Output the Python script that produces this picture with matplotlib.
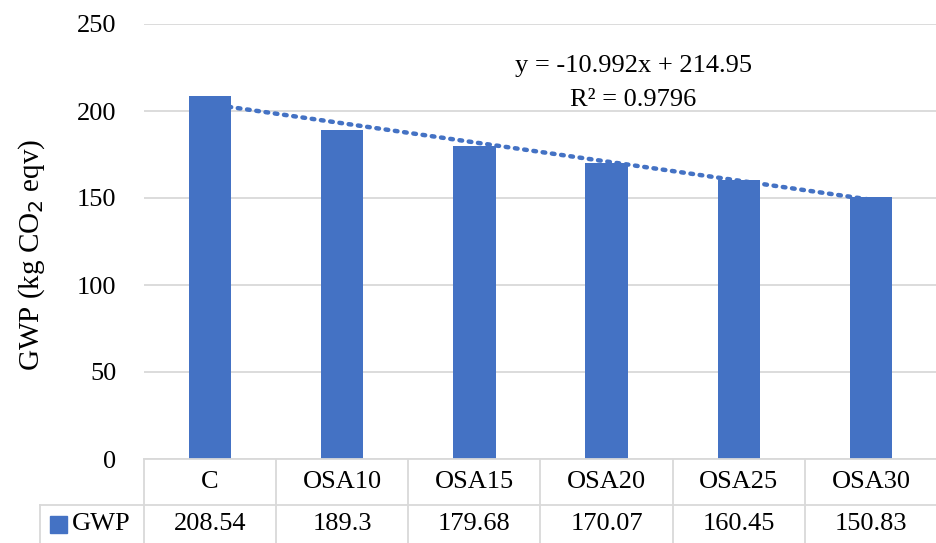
import matplotlib
matplotlib.use("Agg")
import matplotlib.pyplot as plt
import numpy as np
from matplotlib.lines import Line2D
from matplotlib.patches import Rectangle

categories = ["C", "OSA10", "OSA15", "OSA20", "OSA25", "OSA30"]
gwp = [208.54, 189.3, 179.68, 170.07, 160.45, 150.83]
value_labels = ["208.54", "189.3", "179.68", "170.07", "160.45", "150.83"]
series_name = "GWP"
yticks = [0, 50, 100, 150, 200, 250]

plt.rcParams['font.family'] = ['Liberation Serif', 'DejaVu Serif']
W, H = 937, 543
fig = plt.figure(figsize=(W/100, H/100), dpi=100)
blue = "#4472C4"
grid = "#d9d9d9"
fs = 19

left, right, top, bottom = 144, 937, 24, 459
ax = fig.add_axes([left/W, 1-bottom/H, (right-left)/W, (bottom-top)/H])
x = np.arange(len(categories))
ax.bar(x, gwp, width=0.32, color=blue, zorder=3)

# linear trendline (Excel style, x = 1..n)
xs = np.arange(1, len(gwp)+1)
m, b = np.polyfit(xs, gwp, 1)
pred = m*xs + b
r2 = 1 - np.sum((np.array(gwp)-pred)**2)/np.sum((np.array(gwp)-np.mean(gwp))**2)
ax.plot(x, pred, linestyle=(0, (0.6, 1.5)), color=blue, lw=3.2,
        dash_capstyle='round', zorder=2)
ax.text(3.2, 226, f"y = {m:.3f}x + {b:.2f}", ha='center', va='center', fontsize=fs)
ax.text(3.2, 206.5, f"R² = {r2:.4f}", ha='center', va='center', fontsize=fs)

ax.set_xlim(-0.5, len(categories)-0.5)
ax.set_ylim(0, 250)
ax.set_yticks(yticks)
ax.set_yticklabels([str(t) for t in yticks], fontsize=fs)
ax.tick_params(axis='y', length=0, pad=20)
ax.set_xticks([])
ax.grid(axis='y', color=grid, lw=1.3, zorder=0)
for s in ax.spines.values():
    s.set_visible(False)
ax.set_ylabel("GWP (kg CO$_2$ eqv)", fontsize=21, va='center')
ax.yaxis.set_label_coords((32-left)/(right-left), (bottom-255)/(bottom-top))

def fx(px): return px / W
def fy(py): return 1 - py / H

lines = []
lines.append(((left, right), (bottom, bottom)))
colw = (right-left)/len(categories)
for k in range(len(categories)+1):
    xx = left + colw*k
    lines.append(((xx, xx), (bottom, H)))
lines.append(((40, right), (505, 505)))
lines.append(((40, 40), (505, H)))
for (xx, yy) in lines:
    fig.add_artist(Line2D([fx(v) for v in xx], [fy(v) for v in yy],
                          color=grid, lw=1.3, transform=fig.transFigure))

for k, (c, v) in enumerate(zip(categories, value_labels)):
    cx = left + colw*(k+0.5)
    fig.text(fx(cx), fy(482), c, ha='center', va='center', fontsize=fs)
    fig.text(fx(cx), fy(524), v, ha='center', va='center', fontsize=fs)

fig.add_artist(Rectangle((fx(50), fy(533)), 17/W, 17/H, color=blue,
                         transform=fig.transFigure))
fig.text(fx(72), fy(524), series_name, ha='left', va='center', fontsize=fs)

fig.savefig("out.png", dpi=100)
